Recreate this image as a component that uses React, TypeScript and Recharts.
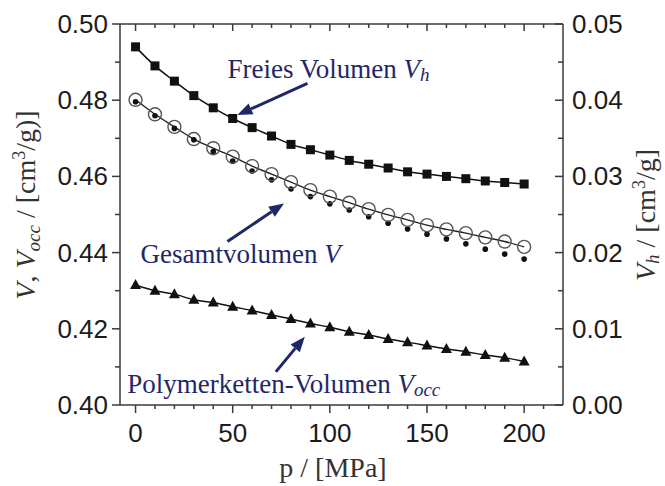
import {
    ComposedChart,
    Line,
    XAxis,
    YAxis,
    ReferenceDot,
    ReferenceLine,
    Label,
} from "recharts";

// pressure steps in MPa
const pressure = [
    0, 10, 20, 30, 40, 50, 60, 70, 80, 90, 100,
    110, 120, 130, 140, 150, 160, 170, 180, 190, 200,
];

// free volume Vh (right axis)
const freeVolume = [
    0.047, 0.0445, 0.0425, 0.0406, 0.039, 0.0376, 0.0364, 0.0353, 0.0342, 0.0335, 0.0328,
    0.0321, 0.0316, 0.0311, 0.0306, 0.0303, 0.03, 0.0297, 0.0294, 0.0292, 0.029,
];

// total volume V, measured (open circles)
const totalVolume = [
    0.4801, 0.4763, 0.473, 0.4698, 0.4674, 0.4652, 0.4627, 0.4606, 0.4585, 0.4564, 0.4547,
    0.4531, 0.4514, 0.4499, 0.4486, 0.4472, 0.4461, 0.4451, 0.444, 0.4429, 0.4415,
];

// total volume V, calculated (small dots)
const totalVolumeCalc = [
    0.4796, 0.4759, 0.4726, 0.4696, 0.4665, 0.464, 0.4614, 0.4591, 0.4567, 0.4547, 0.4528,
    0.4512, 0.4494, 0.4477, 0.4462, 0.4448, 0.4436, 0.4423, 0.4409, 0.4396, 0.4383,
];

// occupied (polymer chain) volume Vocc
const chainVolume = [
    0.4315, 0.43, 0.4291, 0.4276, 0.4269, 0.4258, 0.4248, 0.4236, 0.4226, 0.4214, 0.4204,
    0.4192, 0.4184, 0.4173, 0.4165, 0.4156, 0.4147, 0.414, 0.4131, 0.4124, 0.4114,
];

const xTicks = [
    0, 10, 20, 30, 40, 50, 60, 70, 80, 90, 100,
    110, 120, 130, 140, 150, 160, 170, 180, 190, 200, 210,
];

const leftTicks = [0.4, 0.41, 0.42, 0.43, 0.44, 0.45, 0.46, 0.47, 0.48, 0.49, 0.5];

const rightTicks = [
    0, 0.005, 0.01, 0.015, 0.02, 0.025, 0.03, 0.035, 0.04, 0.045, 0.05,
];

const data = pressure.map((p, i) => ({
    p,
    vh: freeVolume[i],
    v: totalVolume[i],
    vCalc: totalVolumeCalc[i],
    vocc: chainVolume[i],
}));

const X_DOMAIN = [-8, 220];
const SANS = "'Liberation Sans', Arial, sans-serif";
const SERIF = "'Liberation Serif', 'Times New Roman', serif";
const AXIS = "#3a3a3a";
const TEXT = "#1c1c1c";
const NAVY = "#1f2768";

// bottom ticks; the mirrored inward ticks of the top frame are drawn from the same positions
const BottomTick = (props: any) => {
    const { x, y, payload, viewBox } = props;
    const major = payload.value % 50 === 0;
    const top = 24;
    return (
        <g>
            <line x1={x} x2={x} y1={y} y2={y + (major ? 8 : 4)} stroke={AXIS} strokeWidth={1.5} />
            <line x1={x} x2={x} y1={top} y2={top + (major ? 7 : 4)} stroke={AXIS} strokeWidth={1.5} />
            {major && (
                <text x={x} y={y + 37} textAnchor="middle" fontSize={26} fontFamily={SANS} fill={TEXT}>
                    {payload.value}
                </text>
            )}
        </g>
    );
};

const LeftTick = (props: any) => {
    const { x, y, payload } = props;
    const major = Math.round(payload.value * 100) % 2 === 0;
    return (
        <g>
            <line x1={x} x2={x - (major ? 8 : 5)} y1={y} y2={y} stroke={AXIS} strokeWidth={1.5} />
            {major && (
                <text x={x - 12} y={y + 9} textAnchor="end" fontSize={26} fontFamily={SANS} fill={TEXT}>
                    {payload.value.toFixed(2)}
                </text>
            )}
        </g>
    );
};

const RightTick = (props: any) => {
    const { x, y, payload } = props;
    const major = Math.round(payload.value * 1000) % 10 === 0;
    return (
        <g>
            <line x1={x} x2={x - (major ? 8 : 5)} y1={y} y2={y} stroke={AXIS} strokeWidth={1.5} />
            {major && (
                <text x={x + 9} y={y + 9} textAnchor="start" fontSize={26} fontFamily={SANS} fill={TEXT}>
                    {payload.value.toFixed(2)}
                </text>
            )}
        </g>
    );
};

const squareDot = (props: any) => (
    <rect key={`sq-${props.index}`} x={props.cx - 4.5} y={props.cy - 4.5} width={9} height={9} fill="#111" />
);

const circleDot = (props: any) => (
    <circle key={`ci-${props.index}`} cx={props.cx} cy={props.cy} r={6.5} fill="none" stroke="#555" strokeWidth={1.4} />
);

const smallDot = (props: any) => (
    <circle key={`sm-${props.index}`} cx={props.cx} cy={props.cy} r={2.8} fill="#111" />
);

const triangleDot = (props: any) => {
    const { cx, cy } = props;
    return (
        <polygon
            key={`tr-${props.index}`}
            points={`${cx},${cy - 6} ${cx - 5.5},${cy + 4} ${cx + 5.5},${cy + 4}`}
            fill="#111"
        />
    );
};

// arrow with filled head at the segment end
const arrow = (props: any) => {
    const { x1, y1, x2, y2 } = props;
    const len = Math.hypot(x2 - x1, y2 - y1);
    const dx = (x2 - x1) / len;
    const dy = (y2 - y1) / len;
    const head = 15;
    const half = 6;
    const bx = x2 - dx * head;
    const by = y2 - dy * head;
    return (
        <g>
            <line x1={x1} y1={y1} x2={bx} y2={by} stroke={NAVY} strokeWidth={3} />
            <polygon
                points={`${x2},${y2} ${bx - dy * half},${by + dx * half} ${bx + dy * half},${by - dx * half}`}
                fill={NAVY}
            />
        </g>
    );
};

const annotation = (main: string, symbol: string, sub: string) => (props: any) => (
    <text x={props.cx} y={props.cy} fontSize={27} fontFamily={SERIF} fill={NAVY}>
        <tspan>{main}</tspan>
        <tspan fontStyle="italic">{symbol}</tspan>
        {sub && (
            <tspan fontStyle="italic" fontSize={19} dy={3}>
                {sub}
            </tspan>
        )}
    </text>
);

const LeftTitle = () => (
    <text transform="translate(35,205) rotate(-90)" textAnchor="middle" fontSize={28} fontFamily={SERIF} fill="#333">
        <tspan fontStyle="italic">V</tspan>
        <tspan>{", "}</tspan>
        <tspan fontStyle="italic">V</tspan>
        <tspan fontStyle="italic" fontSize={19} dy={5}>occ</tspan>
        <tspan dy={-5}>{" / [cm"}</tspan>
        <tspan fontSize={18} dy={-10}>3</tspan>
        <tspan dy={10}>{"/g)]"}</tspan>
    </text>
);

const RightTitle = () => (
    <text transform="translate(655,215) rotate(-90)" textAnchor="middle" fontSize={28} fontFamily={SERIF} fill="#333">
        <tspan fontStyle="italic">V</tspan>
        <tspan fontStyle="italic" fontSize={19} dy={4}>h</tspan>
        <tspan dy={-4}>{" / [cm"}</tspan>
        <tspan fontSize={18} dy={-10}>3</tspan>
        <tspan dy={10}>{"/g]"}</tspan>
    </text>
);

// axis title plus the top edge of the frame (same span as the x axis)
const BottomTitle = (props: any) => {
    const vb = props.viewBox || { x: 120, width: 443 };
    return (
        <g>
            <line x1={vb.x} x2={vb.x + vb.width} y1={24} y2={24} stroke={AXIS} strokeWidth={1.5} />
            <text x={333} y={477} textAnchor="middle" fontSize={28} fontFamily={SERIF} fill="#333">
                p / [MPa]
            </text>
        </g>
    );
};

const App = () => {
    return (
        <div style={{ position: "absolute", left: 0, top: 0, background: "#fff" }}>
            <ComposedChart
                width={665}
                height={486}
                data={data}
                margin={{ top: 24, right: 0, bottom: 0, left: 0 }}
            >
                <XAxis
                    dataKey="p"
                    type="number"
                    domain={X_DOMAIN}
                    allowDataOverflow
                    ticks={xTicks}
                    interval={0}
                    height={81}
                    tickSize={0}
                    tickMargin={0}
                    tick={<BottomTick />}
                    axisLine={{ stroke: AXIS, strokeWidth: 1.5 }}
                >
                    <Label content={(p: any) => <BottomTitle {...p} />} />
                </XAxis>
                <YAxis
                    yAxisId="left"
                    type="number"
                    domain={[0.4, 0.5]}
                    allowDataOverflow
                    ticks={leftTicks}
                    interval={0}
                    width={120}
                    tickSize={0}
                    tickMargin={0}
                    tick={<LeftTick />}
                    axisLine={{ stroke: AXIS, strokeWidth: 1.5 }}
                >
                    <Label content={() => <LeftTitle />} />
                </YAxis>
                <YAxis
                    yAxisId="right"
                    orientation="right"
                    type="number"
                    domain={[0, 0.05]}
                    allowDataOverflow
                    ticks={rightTicks}
                    interval={0}
                    width={102}
                    tickSize={0}
                    tickMargin={0}
                    tick={<RightTick />}
                    axisLine={{ stroke: AXIS, strokeWidth: 1.5 }}
                >
                    <Label content={() => <RightTitle />} />
                </YAxis>

                <Line
                    yAxisId="right"
                    type="monotone"
                    dataKey="vh"
                    stroke="#111"
                    strokeWidth={1.5}
                    dot={squareDot}
                    isAnimationActive={false}
                />
                <Line
                    yAxisId="left"
                    type="monotone"
                    dataKey="vCalc"
                    stroke="none"
                    dot={smallDot}
                    isAnimationActive={false}
                />
                <Line
                    yAxisId="left"
                    type="monotone"
                    dataKey="v"
                    stroke="#222"
                    strokeWidth={1.4}
                    dot={circleDot}
                    isAnimationActive={false}
                />
                <Line
                    yAxisId="left"
                    type="monotone"
                    dataKey="vocc"
                    stroke="#111"
                    strokeWidth={1.5}
                    dot={triangleDot}
                    isAnimationActive={false}
                />

                <ReferenceLine
                    yAxisId="left"
                    segment={[{ x: 88.5, y: 0.4844 }, { x: 52.4, y: 0.4761 }]}
                    ifOverflow="visible"
                    shape={arrow}
                />
                <ReferenceLine
                    yAxisId="left"
                    segment={[{ x: 47.3, y: 0.4429 }, { x: 76.4, y: 0.4529 }]}
                    ifOverflow="visible"
                    shape={arrow}
                />
                <ReferenceLine
                    yAxisId="left"
                    segment={[{ x: 72.2, y: 0.4087 }, { x: 87.1, y: 0.4179 }]}
                    ifOverflow="visible"
                    shape={arrow}
                />

                <ReferenceDot
                    yAxisId="left"
                    x={47.3}
                    y={0.4857}
                    ifOverflow="visible"
                    shape={annotation("Freies Volumen ", "V", "h")}
                />
                <ReferenceDot
                    yAxisId="left"
                    x={2.6}
                    y={0.4372}
                    ifOverflow="visible"
                    shape={annotation("Gesamtvolumen ", "V", "")}
                />
                <ReferenceDot
                    yAxisId="left"
                    x={-4.3}
                    y={0.4031}
                    ifOverflow="visible"
                    shape={annotation("Polymerketten-Volumen ", "V", "occ")}
                />
            </ComposedChart>
        </div>
    );
};

export default App;
